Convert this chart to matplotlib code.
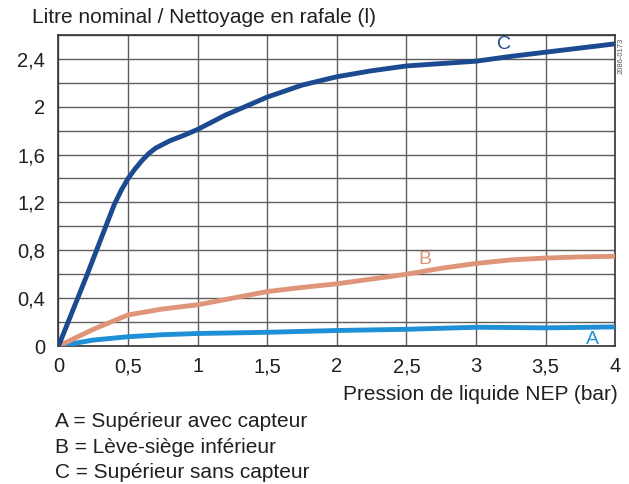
import numpy as np
import matplotlib.pyplot as plt

plt.rcParams['font.family'] = ['Liberation Sans', 'DejaVu Sans']

# Values
x_c = [0, 0.1, 0.2, 0.3, 0.4, 0.45, 0.5, 0.55, 0.6, 0.65, 0.7, 0.8, 0.9, 1.0,
       1.1, 1.2, 1.3, 1.4, 1.5, 1.75, 2.0, 2.25, 2.5, 2.75, 3.0, 3.25, 3.5,
       3.75, 4.0]
y_c = [0, 0.29, 0.58, 0.88, 1.18, 1.30, 1.40, 1.48, 1.55, 1.61, 1.655, 1.715,
       1.76, 1.81, 1.87, 1.93, 1.98, 2.03, 2.08, 2.18, 2.25, 2.3, 2.34, 2.36,
       2.38, 2.42, 2.455, 2.49, 2.525]

x_b = [0, 0.25, 0.5, 0.75, 1.0, 1.25, 1.5, 1.75, 2.0, 2.25, 2.5, 2.75, 3.0,
       3.25, 3.5, 3.75, 4.0]
y_b = [0, 0.14, 0.26, 0.31, 0.345, 0.4, 0.455, 0.49, 0.52, 0.56, 0.6, 0.65, 0.69,
       0.72, 0.735, 0.745, 0.75]

x_a = [0, 0.25, 0.5, 0.75, 1.0, 1.5, 2.0, 2.5, 3.0, 3.25, 3.5, 4.0]
y_a = [0, 0.05, 0.078, 0.095, 0.105, 0.115, 0.13, 0.14, 0.157, 0.155, 0.152, 0.16]

x_ticks = [0, 0.5, 1, 1.5, 2, 2.5, 3, 3.5, 4]
x_tick_labels = ['0', '0,5', '1', '1,5', '2', '2,5', '3', '3,5', '4']
y_ticks = [0, 0.4, 0.8, 1.2, 1.6, 2.0, 2.4]
y_tick_labels = ['0', '0,4', '0,8', '1,2', '1,6', '2', '2,4']

legend_lines = ['A = Supérieur avec capteur',
                'B = Lève-siège inférieur',
                'C = Supérieur sans capteur']

col_a = '#1f8fd6'
col_b = '#df9579'
col_c = '#1b4a90'
txt = '#231f20'

fig = plt.figure(figsize=(6.29, 4.84), dpi=100)
ax = fig.add_axes([0.093, 0.285, 0.885, 0.643])

ax.plot(x_a, y_a, color=col_a, lw=3.5, solid_capstyle='butt',
        solid_joinstyle='round', zorder=3)
ax.plot(x_b, y_b, color=col_b, lw=3.5, solid_capstyle='butt',
        solid_joinstyle='round', zorder=3)
ax.plot(x_c, y_c, color=col_c, lw=3.5, solid_capstyle='butt',
        solid_joinstyle='round', zorder=4)

ax.text(3.2, 2.52, 'C', color=col_c, fontsize=14, ha='center', va='center')
ax.text(2.63, 0.725, 'B', color=col_b, fontsize=14, ha='center', va='center')
ax.text(3.84, 0.056, 'A', color=col_a, fontsize=14, ha='center', va='center')

ax.set_xlim(0, 4)
ax.set_ylim(0, 2.6)
ax.set_xticks(x_ticks)
ax.set_xticklabels(x_tick_labels)
ax.set_yticks(y_ticks)
ax.set_yticklabels(y_tick_labels)
ax.set_xticks(np.arange(0, 4.01, 0.5), minor=True)
ax.set_yticks(np.arange(0, 2.61, 0.2), minor=True)
ax.grid(which='both', color='#5e5e5e', lw=1.0)
ax.tick_params(which='both', length=0, labelsize=14.5, colors=txt)
ax.tick_params(axis='x', pad=8)
ax.tick_params(axis='y', pad=9.5)
for s in ax.spines.values():
    s.set_color('#333333')
    s.set_linewidth(1.2)

fig.text(0.051, 0.9525, 'Litre nominal / Nettoyage en rafale (l)', fontsize=15,
         color=txt, ha='left', va='baseline')
fig.text(0.982, 0.1736, 'Pression de liquide NEP (bar)', fontsize=15,
         color=txt, ha='right', va='baseline')
for yy, line in zip([0.1184, 0.064, 0.0114], legend_lines):
    fig.text(0.088, yy, line, fontsize=15, color=txt,
             ha='left', va='baseline')
fig.text(0.988, 0.884, '2086-0173', fontsize=5.5, color='#555555',
         rotation=90, ha='center', va='center')

fig.savefig('out.png', dpi=100)
